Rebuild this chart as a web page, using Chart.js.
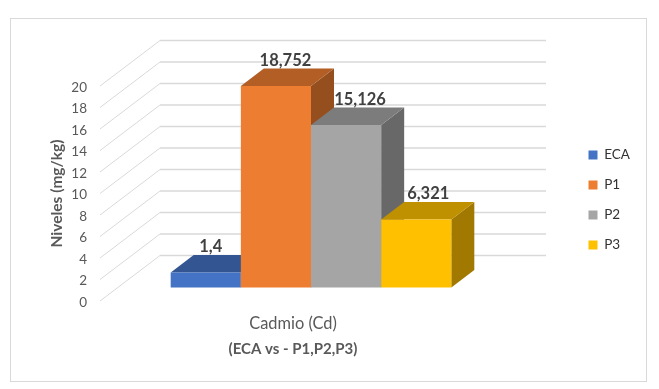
<!DOCTYPE html>
<html>
<head>
<meta charset="utf-8">
<title>Cadmio</title>
<script src="https://cdn.jsdelivr.net/npm/chart.js@4"></script>
<style>
    html, body { margin: 0; padding: 0; background: #fff; }
    #wrap { position: relative; width: 659px; height: 389px; }
</style>
</head>
<body>
<div id="wrap"><canvas id="chart" width="659" height="389"></canvas></div>
<script>
const categories = ['Cadmio (Cd)'];
const seriesNames = ['ECA', 'P1', 'P2', 'P3'];
const eca = [1.4];
const p1 = [18.752];
const p2 = [15.126];
const p3 = [6.321];
const valueLabels = ['1,4', '18,752', '15,126', '6,321'];
const seriesColors = ['#4472C4', '#ED7D31', '#A5A5A5', '#FFC000'];

// depth of the box behind the front axis plane, and where the bars sit in it
const wallDepth = { x: 60, y: -45.5 };
const barPlane = { x: 18, y: -13.5 };
const barDepth = { x: 23, y: -17.5 };
const labelShift = [5, 9.5, 14, 12];

function shade(hex, f) {
    const n = parseInt(hex.slice(1), 16);
    const c = [n >> 16, (n >> 8) & 255, n & 255].map(v => Math.round(v * f));
    return `rgb(${c[0]},${c[1]},${c[2]})`;
}

function poly(ctx, pts, color) {
    ctx.beginPath();
    pts.forEach((p, i) => (i ? ctx.lineTo(p[0], p[1]) : ctx.moveTo(p[0], p[1])));
    ctx.closePath();
    ctx.fillStyle = color;
    ctx.fill();
}

const box3d = {
    id: 'box3d',
    afterLayout(chart) {
        // legend stands apart from the plot, well above the middle of the padded area
        const legend = chart.legend;
        const dx = 572 - legend.left;
        const dy = 200 - (legend.top + legend.bottom) / 2;
        legend.left += dx;
        legend.right += dx;
        legend.top += dy;
        legend.bottom += dy;
    },
    beforeDraw(chart) {
        // frame round the whole chart
        const ctx = chart.ctx;
        ctx.save();
        ctx.strokeStyle = '#D9D9D9';
        ctx.lineWidth = 1;
        ctx.strokeRect(10.5, 18.5, 636, 363);
        ctx.restore();
    },
    beforeDatasetsDraw(chart) {
        const ctx = chart.ctx;
        const yScale = chart.scales.y;
        const area = chart.chartArea;
        ctx.save();
        ctx.strokeStyle = '#D9D9D9';
        yScale.ticks.forEach(t => {
            const y = yScale.getPixelForValue(t.value);
            ctx.lineWidth = 1;
            ctx.beginPath();
            ctx.moveTo(area.left, y);
            ctx.lineTo(area.left + wallDepth.x, y + wallDepth.y);
            ctx.stroke();
            ctx.lineWidth = 1.5;
            ctx.beginPath();
            ctx.moveTo(area.left + wallDepth.x, y + wallDepth.y);
            ctx.lineTo(area.right + wallDepth.x, y + wallDepth.y);
            ctx.stroke();
        });

        // painted left to right so each bar covers the side of the one before it
        ctx.translate(barPlane.x, barPlane.y);
        chart.data.datasets.forEach((ds, i) => {
            const bar = chart.getDatasetMeta(i).data[0];
            const left = bar.x - bar.width / 2;
            const right = bar.x + bar.width / 2;
            const dx = barDepth.x;
            const dy = barDepth.y;
            poly(ctx, [[right, bar.y], [right + dx, bar.y + dy], [right + dx, bar.base + dy], [right, bar.base]],
                shade(seriesColors[i], 0.63));
            poly(ctx, [[left, bar.y], [left + dx, bar.y + dy], [right + dx, bar.y + dy], [right, bar.y]],
                shade(seriesColors[i], 0.75));
            bar.draw(ctx);
        });
        chart.data.datasets.forEach((ds, i) => {
            const bar = chart.getDatasetMeta(i).data[0];
            ctx.font = 'bold 16.5px Lato';
            ctx.fillStyle = '#404040';
            ctx.textAlign = 'center';
            ctx.textBaseline = 'middle';
            ctx.fillText(valueLabels[i], bar.x + labelShift[i], bar.y + barDepth.y - 8);
        });
        ctx.restore();
        return false;
    }
};

const seriesValues = [eca, p1, p2, p3];

new Chart(document.getElementById('chart'), {
    type: 'bar',
    data: {
        labels: categories,
        datasets: seriesNames.map((name, i) => ({
            label: name,
            data: seriesValues[i],
            backgroundColor: seriesColors[i],
            borderWidth: 0
        }))
    },
    options: {
        responsive: false,
        animation: false,
        layout: { padding: { left: 48, right: 105, top: 86, bottom: 31 } },
        datasets: { bar: { barPercentage: 1, categoryPercentage: 0.727 } },
        scales: {
            x: {
                afterFit(scale) { scale.height = 57; },
                grid: { display: false, drawTicks: false },
                border: { display: false },
                ticks: { color: '#595959', font: { family: 'Lato', size: 16.4 }, padding: 13 },
                title: {
                    display: true,
                    text: '(ECA vs - P1,P2,P3)',
                    color: '#595959',
                    font: { family: 'Lato', size: 15, weight: 'bold' },
                    padding: { top: 6, bottom: 0 }
                }
            },
            y: {
                min: 0,
                max: 20,
                afterFit(scale) { scale.width = 52; },
                grid: { display: false, drawTicks: false },
                border: { display: false },
                ticks: { stepSize: 2, color: '#595959', font: { family: 'Lato', size: 13.5 }, padding: 13, labelOffset: 1.5 },
                title: {
                    display: true,
                    text: 'Niveles (mg/kg)',
                    color: '#595959',
                    font: { family: 'Lato', size: 15.5, weight: 'bold' },
                    padding: 0
                }
            }
        },
        plugins: {
            tooltip: { enabled: false },
            title: { display: false },
            legend: {
                position: 'right',
                labels: {
                    boxWidth: 9,
                    boxHeight: 9,
                    padding: 16.5,
                    color: '#333333',
                    font: { family: 'Lato', size: 13.5 }
                }
            }
        }
    },
    plugins: [box3d]
});
</script>
</body>
</html>
